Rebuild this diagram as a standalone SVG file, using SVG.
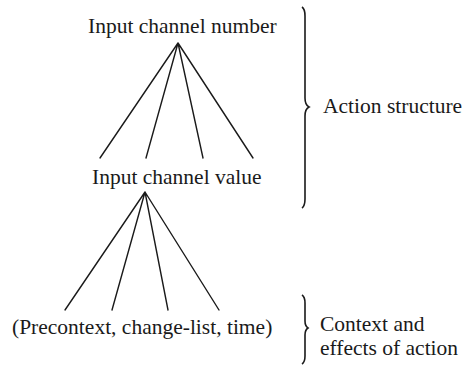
<svg xmlns="http://www.w3.org/2000/svg" width="462" height="366" viewBox="0 0 462 366">
<style>
text{font-family:"Liberation Serif","Times New Roman",serif;font-size:21.5px;fill:#1a1a1a}
.ln{stroke:#1a1a1a;stroke-width:1.4;fill:none;stroke-linecap:round}
.br{stroke:#1a1a1a;stroke-width:1.6;fill:none}
</style>
<rect width="462" height="366" fill="#fff"/>
<g id="node-input-channel-number"><text x="88" y="33">Input channel number</text></g>
<g id="node-input-channel-value"><text x="92" y="184">Input channel value</text></g>
<g id="node-precontext"><text x="12" y="334">(Precontext, change-list, time)</text></g>
<g id="connectors">
<path class="ln" d="M178 43L100 158M178 43L146 158M178 43L203 158M178 43L253 158"/>
<path class="ln" d="M145 192L65 310M145 192L112 310M145 192L168 310M145 192L219 310"/>
</g>
<g id="brace-action-structure">
<path class="br" d="M302 7Q305 9 305 16V98Q305 105 309 107Q305 109 305 116V199Q305 206 302 208"/>
<text x="323" y="113">Action structure</text>
</g>
<g id="brace-context">
<path class="br" d="M302 295Q305 297 305 303V321Q305 326 308 328Q305 330 305 335V356Q305 362 302 364"/>
<text x="320" y="331">Context and</text>
<text x="320" y="355">effects of action</text>
</g>
</svg>
